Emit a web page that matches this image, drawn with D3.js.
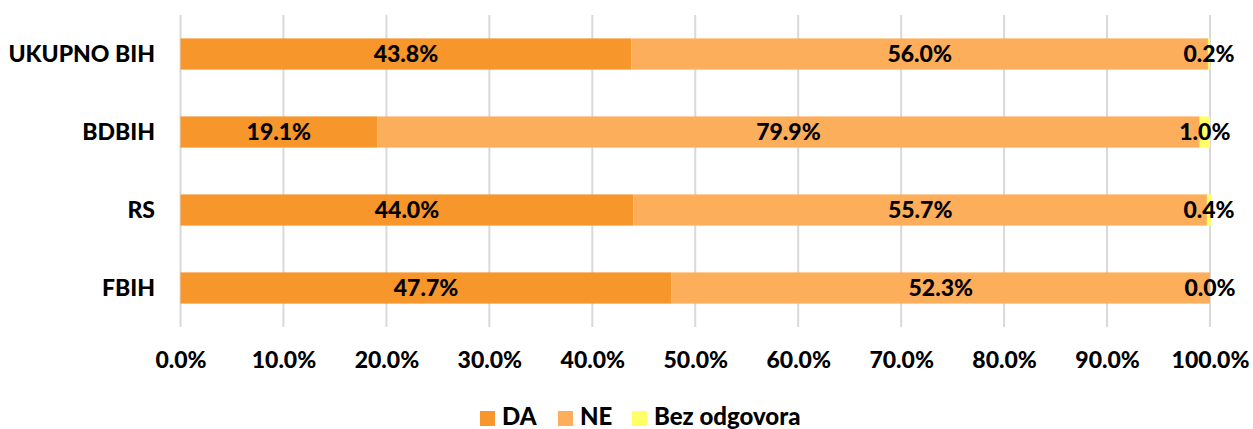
<!DOCTYPE html>
<html><head><meta charset="utf-8">
<script src="https://cdn.jsdelivr.net/npm/d3@7"></script>
<style>body{margin:0;background:#fff}svg{display:block}text{font-family:Lato,"Open Sans",sans-serif;font-weight:900;fill:#000}</style>
</head><body><svg id="c" width="1253" height="429"></svg>
<script>
const categories = ["UKUPNO BIH","BDBIH","RS","FBIH"];
const seriesNames = ["DA","NE","Bez odgovora"];
const daValues = [43.8, 19.1, 44.0, 47.7];
const neValues = [56.0, 79.9, 55.7, 52.3];
const bezValues = [0.2, 1.0, 0.4, 0.0];
const xTicks = [0,10,20,30,40,50,60,70,80,90,100];
const colors = ["#F7962B","#FDAE5B","#FFFF66"];

const svg = d3.select("#c");
const x = d3.scaleLinear().domain([0,100]).range([180.5,1210]);
const y = d3.scaleBand().domain(categories).range([15,327]).paddingInner(0.6).paddingOuter(0.3);

svg.append("g").selectAll("line").data(xTicks).join("line")
  .attr("x1",d=>x(d)).attr("x2",d=>x(d)).attr("y1",15).attr("y2",327)
  .attr("stroke","#d9d9d9").attr("stroke-width",2);

const rows = categories.map((c,i)=>({cat:c, DA:daValues[i], NE:neValues[i], "Bez odgovora":bezValues[i]}));
const stacked = d3.stack().keys(seriesNames)(rows);

stacked.forEach((s,si)=>{
  svg.append("g").selectAll("rect").data(s).join("rect")
    .attr("x",d=>x(d[0])).attr("width",d=>Math.max(0,x(d[1])-x(d[0])))
    .attr("y",d=>y(d.data.cat)).attr("height",y.bandwidth())
    .attr("fill",colors[si]);
});
stacked.forEach((s,si)=>{
  svg.append("g").selectAll("text").data(s).join("text")
    .attr("x",d=>(x(d[0])+x(d[1]))/2)
    .attr("y",d=>y(d.data.cat)+y.bandwidth()/2)
    .attr("dy","0.36em").attr("text-anchor","middle")
    .style("font-size","23px")
    .text(d=>(d[1]-d[0]).toFixed(1)+"%");
});

svg.append("g").selectAll("text").data(categories).join("text")
  .attr("x",155).attr("y",d=>y(d)+y.bandwidth()/2).attr("dy","0.36em")
  .attr("text-anchor","end").style("font-size","23px").text(d=>d);

const xAxis = d3.axisBottom(x).tickValues(xTicks).tickSize(0).tickFormat(d=>d.toFixed(1)+"%");
const ax = svg.append("g").attr("transform","translate(0,349)").call(xAxis);
ax.select(".domain").remove();
ax.selectAll("text").style("font-size","23px").style("font-family","Lato,'Open Sans',sans-serif").style("font-weight","900").attr("fill","#000");

const legX = [480,558,632];
const lg = svg.append("g");
seriesNames.forEach((n,i)=>{
  lg.append("rect").attr("x",legX[i]).attr("y",411).attr("width",15).attr("height",15).attr("fill",colors[i]);
  lg.append("text").attr("x",legX[i]+22).attr("y",425).style("font-size","24px").text(n);
});
</script></body></html>
